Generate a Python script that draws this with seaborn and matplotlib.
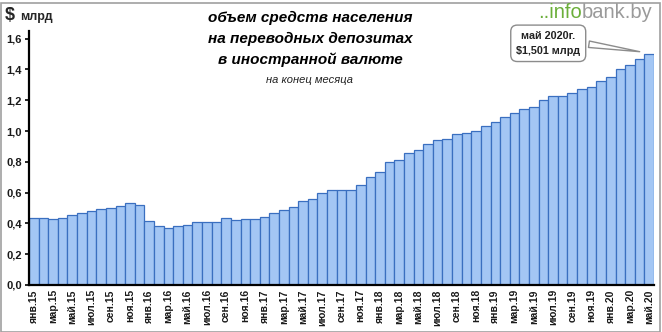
import matplotlib
matplotlib.use("Agg")
import matplotlib.pyplot as plt
import seaborn as sns
import pandas as pd
from matplotlib.patches import Rectangle
from matplotlib.ticker import FuncFormatter

# ---- data ----
months = ["янв", "фев", "мар", "апр", "май", "июн", "июл", "авг", "сен", "окт", "ноя", "дек"]
years = ["15", "16", "17", "18", "19", "20"]
values_2015 = [0.433, 0.437, 0.431, 0.437, 0.454, 0.470, 0.483, 0.496, 0.500, 0.513, 0.530, 0.517]
values_2016 = [0.416, 0.383, 0.372, 0.383, 0.392, 0.410, 0.410, 0.410, 0.435, 0.425, 0.428, 0.428]
values_2017 = [0.440, 0.465, 0.490, 0.508, 0.547, 0.558, 0.595, 0.617, 0.617, 0.617, 0.647, 0.700]
values_2018 = [0.732, 0.800, 0.812, 0.857, 0.874, 0.916, 0.940, 0.946, 0.978, 0.985, 1.002, 1.032]
values_2019 = [1.056, 1.093, 1.115, 1.145, 1.154, 1.203, 1.227, 1.229, 1.249, 1.273, 1.284, 1.325]
values_2020 = [1.353, 1.405, 1.429, 1.466, 1.501]
yticks = [0.0, 0.2, 0.4, 0.6, 0.8, 1.0, 1.2, 1.4, 1.6]

values = values_2015 + values_2016 + values_2017 + values_2018 + values_2019 + values_2020
labels = [f"{m}.{y}" for y in years for m in months][:len(values)]
df = pd.DataFrame({"month": labels, "value": values})

sns.set_theme(style="white")
plt.rcParams["font.family"] = ["Liberation Sans", "DejaVu Sans"]

fig = plt.figure(figsize=(6.62, 3.32), dpi=100)
ax = fig.add_axes([29 / 662, 1 - 285 / 332, (654 - 29) / 662, (285 - 31) / 332])

sns.barplot(data=df, x="month", y="value", ax=ax, width=1.0,
            color="#A3C6F4", edgecolor="#3A6FC0", linewidth=0.9, saturation=1)

ax.set_ylim(0, 1.65)
ax.set_xlim(-0.5, len(values) - 0.5)
ax.set_yticks(yticks)
ax.yaxis.set_major_formatter(FuncFormatter(lambda v, p: f"{v:.1f}".replace(".", ",")))
ax.set_xticks(range(0, len(values), 2))
ax.set_xticklabels(labels[::2], rotation=90, fontsize=7.5, fontweight="bold", color="#1a1a1a")
for t in ax.get_yticklabels():
    t.set_fontsize(8)
    t.set_fontweight("bold")
    t.set_color("#1a1a1a")
ax.tick_params(axis="y", direction="out", length=3, width=1.2, color="black", pad=2, left=True)
ax.tick_params(axis="x", length=0, pad=3)
ax.set_xlabel("")
ax.set_ylabel("")
for s in ["top", "right"]:
    ax.spines[s].set_visible(False)
ax.spines["left"].set_color("black")
ax.spines["left"].set_linewidth(1.6)
ax.spines["bottom"].set_color("black")
ax.spines["bottom"].set_linewidth(1.6)

# Titles
title_kw = dict(ha="center", va="center", fontsize=11, fontweight="bold",
                fontstyle="italic", color="black")
fig.text(310 / 662, 1 - 18 / 332, "объем средств населения", **title_kw)
fig.text(310 / 662, 1 - 39 / 332, "на переводных депозитах", **title_kw)
fig.text(310 / 662, 1 - 60 / 332, "в иностранной валюте", **title_kw)
fig.text(310 / 662, 1 - 80 / 332, "на конец месяца", ha="center", va="center",
         fontsize=8, fontstyle="italic", color="#222222")

# Unit label
fig.text(5 / 662, 1 - 15 / 332, "$", ha="left", va="center", fontsize=13, fontweight="bold")
fig.text(20 / 662, 1 - 17 / 332, "млрд", ha="left", va="center", fontsize=9, fontweight="bold")

# Logo
t_info = fig.text(538 / 662, 1 - 18 / 332, "..info", ha="left", va="baseline", fontsize=14.5,
                  color="#6BAF3A")
ax.annotate("bank.by", xy=(1, 0), xycoords=t_info, ha="left", va="bottom",
            fontsize=14.5, color="#9A9A9A", annotation_clip=False)

# Callout
ax.annotate("май 2020г.\n$1,501 млрд", xy=(63.3, 1.513), xytext=(53.5, 1.57),
            textcoords="data", ha="center", va="center", fontsize=7.8, fontweight="bold",
            color="#222222", linespacing=1.7,
            bbox=dict(boxstyle="round,pad=0.5,rounding_size=0.6", fc="white", ec="#8C8C8C", lw=1),
            arrowprops=dict(arrowstyle="wedge,tail_width=0.6,shrink_factor=0.5", fc="white",
                            ec="#8C8C8C", lw=1, relpos=(0.9, 0.55)))

# outer border
fig.patches.append(Rectangle((0.5 / 662, 0.5 / 332), 1 - 3 / 662, 1 - 3 / 332,
                             transform=fig.transFigure, fill=False, ec="#A0A0A0", lw=1.2))

fig.savefig("out.png", dpi=100)
